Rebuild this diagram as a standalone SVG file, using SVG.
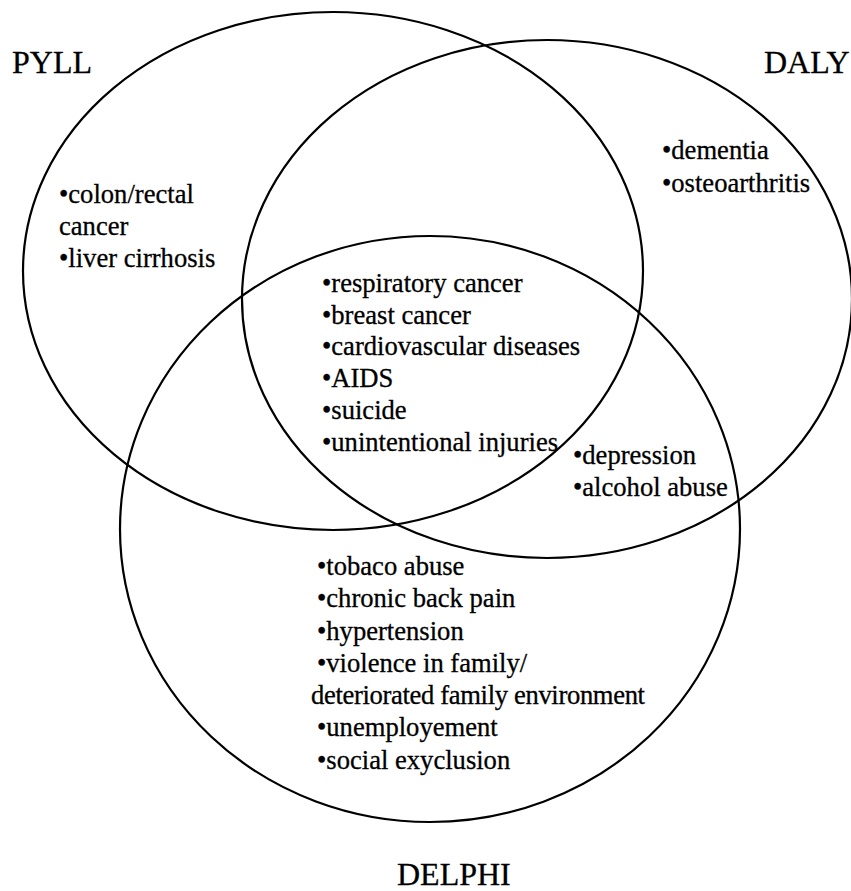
<svg xmlns="http://www.w3.org/2000/svg" width="851" height="891" viewBox="0 0 851 891">
  <style>
    .set { fill: none; stroke: #000; stroke-width: 2.2; }
    text { font-family: "Liberation Serif", "Times New Roman", serif; fill: #000; stroke: #000; stroke-width: 0.3; }
    .title { font-size: 32px; }
    .item { font-size: 26.6px; }
  </style>
  <rect width="851" height="891" fill="#fff"/>

  <!-- Three overlapping sets, each with its own label and items -->
  <g id="pyll">
    <ellipse class="set" cx="333" cy="271" rx="310" ry="259"/>
    <text class="title" x="12" y="73">PYLL</text>
    <text class="item" x="59" y="203">•colon/rectal</text>
    <text class="item" x="59" y="235">cancer</text>
    <text class="item" x="59" y="267">•liver cirrhosis</text>
  </g>

  <g id="daly">
    <ellipse class="set" cx="547" cy="299" rx="305" ry="259"/>
    <text class="title" x="764" y="73">DALY</text>
    <text class="item" x="662" y="159">•dementia</text>
    <text class="item" x="662" y="192">•osteoarthritis</text>
  </g>

  <g id="delphi">
    <ellipse class="set" cx="430" cy="529" rx="310" ry="293"/>
    <text class="title" x="397" y="885">DELPHI</text>
    <text class="item" x="317" y="575">•tobaco abuse</text>
    <text class="item" x="317" y="607">•chronic back pain</text>
    <text class="item" x="317" y="640">•hypertension</text>
    <text class="item" x="317" y="672">•violence in family/</text>
    <text class="item" x="311" y="704" textLength="334" lengthAdjust="spacing">deteriorated family environment</text>
    <text class="item" x="317" y="736">•unemployement</text>
    <text class="item" x="317" y="769">•social exyclusion</text>
  </g>

  <!-- Items shared by all three sets -->
  <g id="all-three">
    <text class="item" x="322" y="292">•respiratory cancer</text>
    <text class="item" x="322" y="324">•breast cancer</text>
    <text class="item" x="322" y="355">•cardiovascular diseases</text>
    <text class="item" x="322" y="387">•AIDS</text>
    <text class="item" x="322" y="419">•suicide</text>
    <text class="item" x="322" y="451">•unintentional injuries</text>
  </g>

  <!-- Items shared by DALY and DELPHI only -->
  <g id="daly-delphi">
    <text class="item" x="573" y="464">•depression</text>
    <text class="item" x="573" y="496">•alcohol abuse</text>
  </g>
</svg>
